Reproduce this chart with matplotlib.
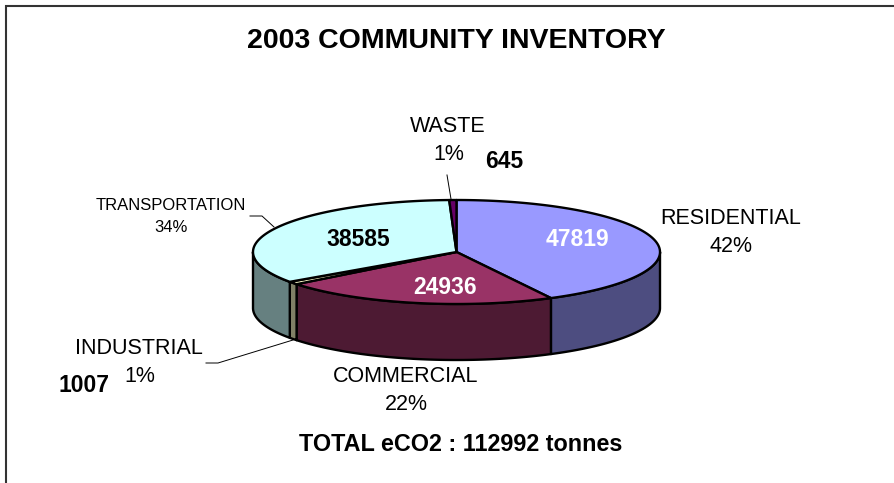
import numpy as np
import matplotlib
matplotlib.use("Agg")
import matplotlib.pyplot as plt
from matplotlib.patches import Polygon, Rectangle

plt.rcParams["font.family"] = ["Liberation Sans", "DejaVu Sans"]

# datos del grafico
categorias = ["RESIDENTIAL", "COMMERCIAL", "INDUSTRIAL", "TRANSPORTATION", "WASTE"]
valores = [47819, 24936, 1007, 38585, 645]
colores_top = ["#9999FF", "#993366", "#FFFFCC", "#CCFFFF", "#660066"]
colores_lado = ["#4D4D80", "#4D1A33", "#808066", "#668080", "#330033"]

titulo = "2003 COMMUNITY INVENTORY"
total = sum(valores)

# geometria de la torta (en pixeles)
CX, CY = 456.5, 252
RX, RY = 203.5, 52
PROF = 56

fig = plt.figure(figsize=(8.95, 4.83), dpi=100)
ax = fig.add_axes([0, 0, 1, 1])
ax.set_xlim(0, 895)
ax.set_ylim(483, 0)
ax.axis("off")

# marco del grafico, sigue hacia fuera por la derecha y abajo
ax.add_patch(Rectangle((6.5, 5.5), 1000, 1000, fc="white", ec="#333333", lw=1.5))


def arco(a0, a1, dy=0):
    t = np.radians(np.linspace(a0, a1, 120))
    return np.column_stack([CX + RX * np.cos(t), CY + dy - RY * np.sin(t)])


# angulos: empieza arriba y va en sentido horario
fracciones = np.array(valores) / total * 360
fin = 90 - np.cumsum(fracciones)
inicio = fin + fracciones

# paredes laterales (solo la mitad de adelante)
for a0, a1, c in zip(inicio, fin, colores_lado):
    s0, s1 = min(a0, 0), max(a1, -180)
    if s0 <= s1:
        continue
    arriba = arco(s0, s1)
    abajo = arco(s1, s0, PROF)
    ax.add_patch(Polygon(np.vstack([arriba, abajo]), closed=True, fc=c, ec="black", lw=1.7, joinstyle="round"))

# tapa
for a0, a1, c in zip(inicio, fin, colores_top):
    pts = np.vstack([[CX, CY], arco(a0, a1)])
    ax.add_patch(Polygon(pts, closed=True, fc=c, ec="black", lw=1.7, joinstyle="round"))

# lineas guia
ax.plot([250, 262, 274], [216, 216, 227], color="black", lw=0.7)
ax.plot([206, 218, 293], [363, 363, 340], color="black", lw=0.7)
ax.plot([447, 451], [175, 199], color="black", lw=0.7)

ax.text(456, 40.5, titulo, ha="center", va="center", fontsize=20.5, fontweight="bold")

pct = [f"{round(v / total * 100)}%" for v in valores]
pos_nombre = [(731, 218), (406, 377), (139, 349), (171, 205), (448, 126)]
pos_pct = [(731, 246), (406, 405), (140, 376), (171, 228), (449, 154)]
tam = [15.5, 15.5, 15.5, 12, 15.5]
for nombre, p, pn, pp, t in zip(categorias, pct, pos_nombre, pos_pct, tam):
    ax.text(pn[0], pn[1], nombre, ha="center", va="center", fontsize=t)
    ax.text(pp[0], pp[1], p, ha="center", va="center", fontsize=t)

# valores en negrita
pos_valor = [(577, 240), (445, 287), (84, 386), (358, 239), (504, 161)]
color_valor = ["white", "white", "black", "black", "black"]
for v, pv, c in zip(valores, pos_valor, color_valor):
    ax.text(pv[0], pv[1], str(v), ha="center", va="center", fontsize=16.5, fontweight="bold", color=c)

ax.text(461, 444.5, f"TOTAL eCO2 : {total} tonnes", ha="center", va="center", fontsize=16.8, fontweight="bold")

plt.savefig("out.png", dpi=100)
